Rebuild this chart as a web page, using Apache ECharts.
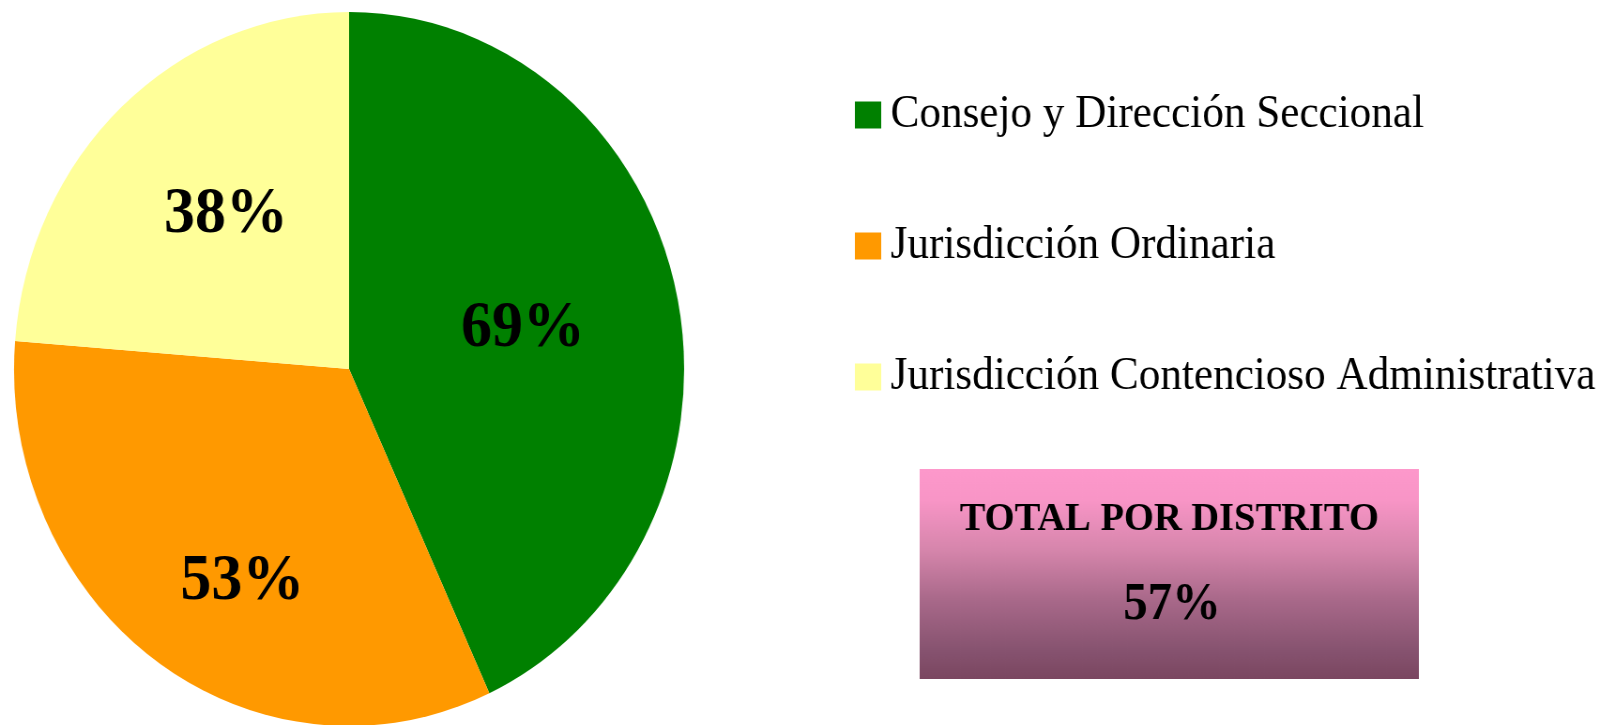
<!DOCTYPE html>
<html>
<head>
<meta charset="utf-8">
<script src="https://cdn.jsdelivr.net/npm/echarts@6/dist/echarts.min.js"></script>
<style>
  html, body { margin: 0; padding: 0; overflow: hidden; background: #ffffff; }
  /* the chart is laid out wider and squeezed horizontally, giving the tall oval pie */
  #main { width: 1716px; height: 725px; transform: scaleX(0.9384); transform-origin: 0 0; }
</style>
</head>
<body>
<div id="main"></div>
<script>
// Dependencias y sus porcentajes
const categories = [
  'Consejo y Dirección Seccional',
  'Jurisdicción Ordinaria',
  'Jurisdicción Contencioso Administrativa'
];
const values = [69, 53, 38];
const sliceColors = ['#008000', '#FF9900', '#FFFF99'];

// Recuadro del total
const totalLabel = 'TOTAL POR DISTRITO';
const totalValue = 57;

// nudges for the percentage labels inside each slice
const labelNudge = [[8, -1], [-10, 64], [-8, -21]];

const chart = echarts.init(document.getElementById('main'), null, { renderer: 'canvas' });

const option = {
  backgroundColor: '#ffffff',
  animation: false,
  legend: {
    orient: 'vertical',
    left: 906,
    top: 87,
    itemWidth: 28,
    itemHeight: 27,
    itemGap: 85,
    icon: 'rect',
    selectedMode: false,
    data: categories,
    textStyle: {
      fontFamily: '"Liberation Serif", "Times New Roman", serif',
      fontSize: 46,
      lineHeight: 46,
      color: '#000000',
      padding: [0, 0, 0, 5]
    }
  },
  graphic: [
    {
      type: 'rect',
      shape: { x: 980, y: 469, width: 532, height: 210 },
      style: {
        fill: new echarts.graphic.LinearGradient(0, 0, 0, 1, [
          { offset: 0, color: '#fd98cb' },
          { offset: 0.15, color: '#f895c6' },
          { offset: 0.39, color: '#d585ab' },
          { offset: 0.62, color: '#a9698a' },
          { offset: 0.86, color: '#875370' },
          { offset: 1, color: '#7a4660' }
        ])
      },
      z: 1
    },
    {
      type: 'text',
      style: {
        text: totalLabel,
        x: 1246, y: 519,
        align: 'center', verticalAlign: 'middle',
        font: 'bold 41px "Liberation Serif", "Times New Roman", serif',
        fill: '#000000'
      },
      z: 2
    },
    {
      type: 'text',
      style: {
        text: totalValue + '%',
        x: 1249, y: 606,
        align: 'center', verticalAlign: 'middle',
        font: 'bold 52px "Liberation Serif", "Times New Roman", serif',
        fill: '#000000'
      },
      z: 2
    }
  ],
  series: [
    {
      type: 'pie',
      center: [372, 369],
      radius: [0, 357],
      startAngle: 90,
      clockwise: true,
      avoidLabelOverlap: false,
      silent: true,
      itemStyle: { borderWidth: 0 },
      label: {
        show: true,
        position: 'inside',
        formatter: '{c}%',
        fontFamily: '"Liberation Serif", "Times New Roman", serif',
        fontWeight: 'bold',
        fontSize: 66,
        color: '#000000'
      },
      labelLine: { show: false },
      labelLayout: function (params) {
        const n = labelNudge[params.dataIndex] || [0, 0];
        return { dx: n[0], dy: n[1] };
      },
      data: categories.map(function (name, i) {
        return { name: name, value: values[i], itemStyle: { color: sliceColors[i] } };
      })
    }
  ]
};

chart.setOption(option);
</script>
</body>
</html>
